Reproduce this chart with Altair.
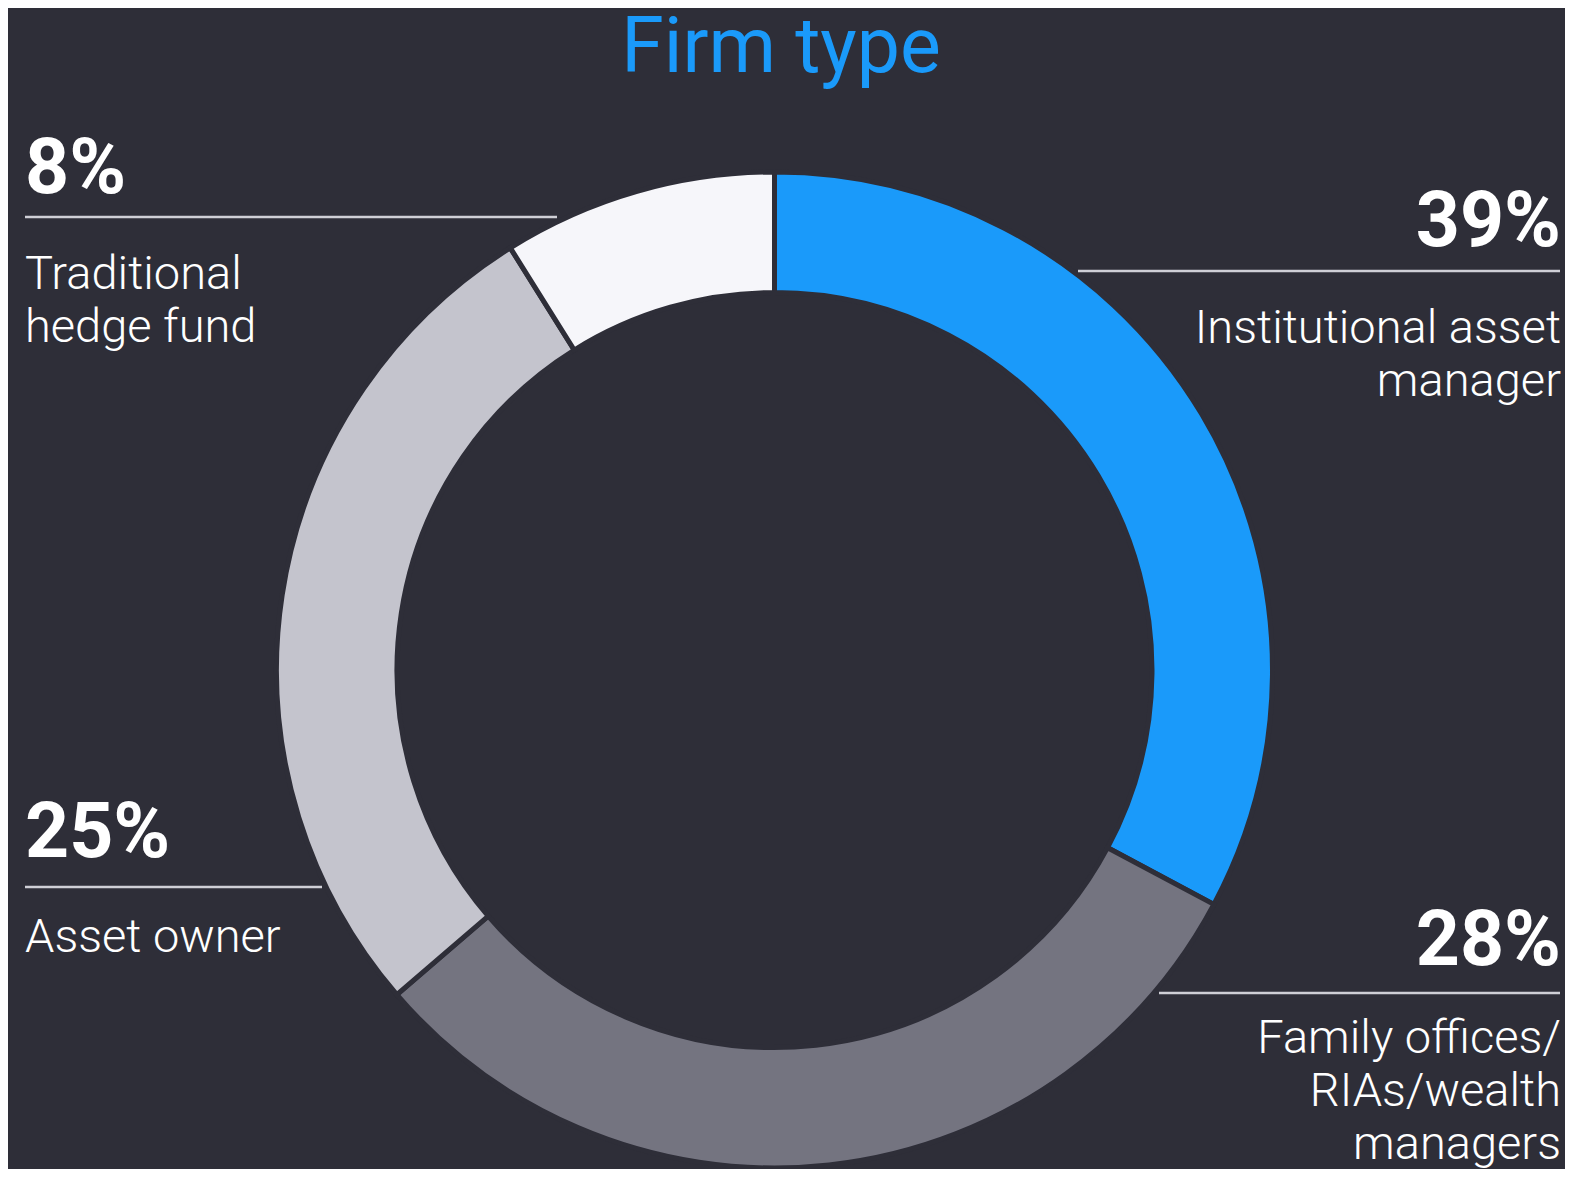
import altair as alt
import pandas as pd

# ---- data ----
categories = [
    "Institutional asset manager",
    "Family offices/RIAs/wealth managers",
    "Asset owner",
    "Traditional hedge fund",
]
arc_share = [32.8, 30.9, 27.4, 8.9]          # drawn arc sizes (share of the ring)
pct_labels = ["39%", "28%", "25%", "8%"]       # printed labels
label_text = [
    "Institutional asset\nmanager",
    "Family offices/\nRIAs/wealth\nmanagers",
    "Asset owner",
    "Traditional\nhedge fund",
]
colors = ["#1a9afa", "#747480", "#c4c4cd", "#f6f6fa"]
title_text = "Firm type"

# ---- styling / layout (page pixels, shifted by the 8px page margin) ----
BG = "#2e2e38"
W, H = 1557, 1161
M = 8
FONT = "Roboto"
CX, CY = 774.5 - M, 670 - M
R_OUT, R_IN = 498, 377.5

side = ["right", "right", "left", "left"]
anchor_x = [1561, 1561, 25, 25]
pct_y = [246, 965, 857, 193]
rule_y = [271, 993, 887, 217]
rule_x0 = [1078, 1159, 25, 25]
rule_x1 = [1560, 1560, 322, 557]
text_y = [343, 1053, 952, 289]

df_arc = pd.DataFrame({"cat": categories, "share": arc_share, "ord": range(len(categories))})

df_ann = pd.DataFrame({
    "cat": categories,
    "pct": pct_labels,
    "label": label_text,
    "side": side,
    "ax": [v - M for v in anchor_x],
    "py": [v - M for v in pct_y],
    "ry": [v - M for v in rule_y],
    "rx0": [v - M for v in rule_x0],
    "rx1": [v - M for v in rule_x1],
    "ty": [v - M for v in text_y],
})

arc = alt.Chart(df_arc).mark_arc(
    outerRadius=R_OUT, innerRadius=R_IN, stroke=BG, strokeWidth=5
).encode(
    theta=alt.Theta("share:Q", stack=True),
    order=alt.Order("ord:Q"),
    color=alt.Color("cat:N", scale=alt.Scale(domain=categories, range=colors), legend=None),
    x=alt.value(CX),
    y=alt.value(CY),
)

rules = alt.Chart(df_ann).mark_rule(color="#cfcfd6", strokeWidth=2.5).encode(
    x=alt.X("rx0:Q", scale=None, axis=None),
    x2="rx1:Q",
    y=alt.Y("ry:Q", scale=None, axis=None),
)

layers = [arc, rules]
for s in ("left", "right"):
    sub = df_ann[df_ann["side"] == s]
    layers.append(
        alt.Chart(sub).mark_text(
            align=s, baseline="alphabetic", font=FONT, fontSize=77,
            fontWeight="bold", color="#ffffff"
        ).encode(
            x=alt.X("ax:Q", scale=None, axis=None),
            y=alt.Y("py:Q", scale=None, axis=None),
            text="pct:N",
        )
    )
    layers.append(
        alt.Chart(sub).mark_text(
            align=s, baseline="alphabetic", font=FONT, fontSize=47,
            fontWeight=300, color="#ffffff", lineBreak="\n", lineHeight=53
        ).encode(
            x=alt.X("ax:Q", scale=None, axis=None),
            y=alt.Y("ty:Q", scale=None, axis=None),
            text="label:N",
        )
    )

title = alt.Chart(pd.DataFrame({"t": [title_text]})).mark_text(
    align="center", baseline="alphabetic", font=FONT, fontSize=77,
    color="#1a9afa"
).encode(
    x=alt.value(781 - M),
    y=alt.value(72 - M),
    text="t:N",
)
layers.append(title)

chart = alt.layer(*layers).properties(
    width=W, height=H, padding=0, autosize=alt.AutoSizeParams(type="none"),
    background=BG,
).configure_view(stroke=None)

chart.save("out.html", embed_options={"renderer": "svg", "actions": False})
